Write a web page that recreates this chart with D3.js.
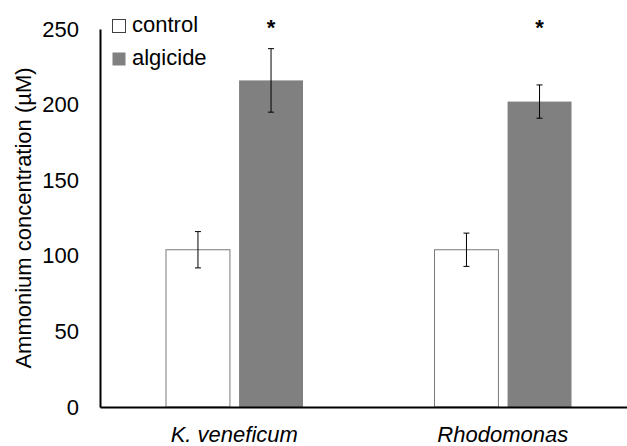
<!DOCTYPE html>
<html>
<head>
<meta charset="utf-8">
<script src="https://cdn.jsdelivr.net/npm/d3@7"></script>
<style>
  body { margin: 0; background: #fff; }
  text { font-family: Arial, "Liberation Sans", sans-serif; }
</style>
</head>
<body>
<svg id="chart"></svg>
<script>
// valeurs
const categories = ["K. veneficum", "Rhodomonas"];
const series = ["control", "algicide"];
const controlValues = [104, 104];
const controlErrors = [12, 11];
const algicideValues = [216, 202];
const algicideErrors = [21, 11];
const yTicks = [0, 50, 100, 150, 200, 250];

var margin = {top: 29, right: -10, bottom: 39, left: 100},
  width = 627 - margin.left - margin.right,
  height = 446 - margin.top - margin.bottom;

const fs = "22px";

const svg = d3.select("#chart")
  .attr("width", 627)
  .attr("height", 446);

const g = svg.append("g")
  .attr("transform", `translate(${margin.left},${margin.top})`);

const x0 = d3.scaleBand().domain(categories).range([0, width]);
const x1 = d3.scaleBand().domain(series).range([66, 66 + 137]).paddingInner(0.125);
const y = d3.scaleLinear().domain([0, 250]).range([height, 0]);
const color = d3.scaleOrdinal(series, ["#ffffff", "#808080"]);

const rows = [];
categories.forEach((c, i) => {
  rows.push({cat: c, s: "control", v: controlValues[i], e: controlErrors[i]});
  rows.push({cat: c, s: "algicide", v: algicideValues[i], e: algicideErrors[i]});
});

// barres
g.selectAll("rect.bar")
  .data(rows)
  .enter().append("rect")
  .attr("class", "bar")
  .attr("x", d => x0(d.cat) + x1(d.s))
  .attr("y", d => y(d.v))
  .attr("width", x1.bandwidth())
  .attr("height", d => height - y(d.v))
  .attr("fill", d => color(d.s))
  .attr("stroke", d => d.s == "control" ? "#7a7a7a" : "none")
  .attr("stroke-width", 1);

// barres d'erreur
const eb = g.selectAll("g.err").data(rows).enter().append("g")
  .attr("transform", d => `translate(${x0(d.cat) + x1(d.s) + x1.bandwidth() / 2},0)`);
eb.append("line")
  .attr("y1", d => y(d.v + d.e)).attr("y2", d => y(d.v - d.e))
  .attr("stroke", "#000").attr("stroke-width", 1);
eb.selectAll("line.cap")
  .data(d => [d.v + d.e, d.v - d.e])
  .enter().append("line")
  .attr("x1", -3).attr("x2", 3)
  .attr("y1", v => y(v)).attr("y2", v => y(v))
  .attr("stroke", "#000").attr("stroke-width", 1);

// astérisques
g.selectAll("text.star")
  .data(rows.filter(d => d.s == "algicide"))
  .enter().append("text")
  .attr("x", d => x0(d.cat) + x1(d.s) + x1.bandwidth() / 2)
  .attr("y", 6)
  .attr("text-anchor", "middle")
  .style("font-size", fs)
  .style("font-weight", "bold")
  .text("*");

// axes
const yAxis = g.append("g")
  .call(d3.axisLeft(y).tickValues(yTicks).tickSize(0).tickPadding(21));
yAxis.select(".domain").attr("stroke", "#000").attr("stroke-width", 2);
yAxis.selectAll("text").style("font-size", fs).attr("fill", "#000");

const xAxis = g.append("g")
  .attr("transform", `translate(0,${height})`)
  .call(d3.axisBottom(x0).tickSize(0).tickPadding(19));
xAxis.select(".domain").attr("stroke", "#000").attr("stroke-width", 2);
xAxis.selectAll("text").style("font-size", fs).style("font-style", "italic").attr("fill", "#000");

// titre axe y
svg.append("text")
  .attr("transform", "translate(31,218) rotate(-90)")
  .attr("text-anchor", "middle")
  .style("font-size", fs)
  .text("Ammonium concentration (µM)");

// légende
const legend = svg.append("g").attr("transform", "translate(112,19)");
series.forEach((s, i) => {
  legend.append("rect")
    .attr("x", 0.5).attr("y", i * 33 + 0.5)
    .attr("width", 13).attr("height", 13)
    .attr("fill", color(s))
    .attr("stroke", s == "control" ? "#404040" : "none");
  legend.append("text")
    .attr("x", 20).attr("y", i * 33 + 13)
    .style("font-size", fs)
    .text(s);
});
</script>
</body>
</html>
